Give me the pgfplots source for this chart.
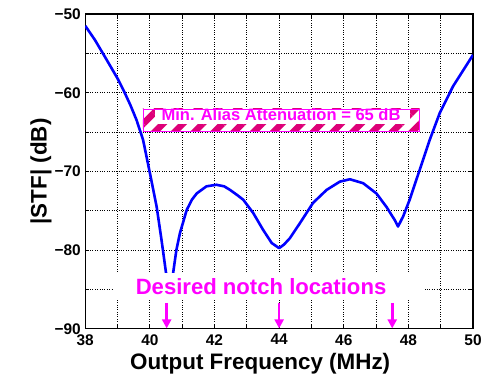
\documentclass[border=0pt]{standalone}
\usepackage{pgfplots}
\pgfplotsset{compat=1.18}
\usetikzlibrary{patterns.meta,arrows.meta}
\usepackage{fontspec}
\setmainfont{Liberation Sans}
\definecolor{stfblue}{RGB}{0,0,255}
\definecolor{mag}{RGB}{255,0,255}
\definecolor{dpink}{RGB}{222,0,120}
\begin{document}
\begin{tikzpicture}
\begin{axis}[
  set layers,
  scale only axis,
  width=388bp, height=315bp,
  xmin=38, xmax=50, ymin=-90, ymax=-50,
  xtick={38,40,...,50},
  minor xtick={39,41,...,49},
  ytick={-90,-80,...,-50},
  yticklabels={−90,−80,−70,−60,−50},
  minor ytick={-85,-75,-65,-55},
  grid=both,
  major grid style={black, dotted, line width=0.8bp},
  minor grid style={black, dotted, line width=0.8bp},
  tick align=inside,
  major tick length=4bp, minor tick length=4bp,
  tick style={black, line width=0.8bp},
  axis line style={black, line width=1.3bp},
  /pgf/number format/assume math mode=true,
  tick label style={font=\bfseries\fontsize{15.5}{15.5}\selectfont},
  xticklabel style={yshift=-2bp},
  yticklabel style={xshift=-1bp},
  xlabel={Output Frequency (MHz)},
  ylabel={|STF| (dB)},
  label style={font=\bfseries\fontsize{22.5}{22.5}\selectfont},
  xlabel style={yshift=-1bp, xshift=-19bp},
  ylabel style={yshift=-4bp},
  clip=true,
]
\addplot[stfblue, line width=2.6bp, line join=round] coordinates {
(38,-51.5) (38.3,-53.3) (38.66,-55.8) (39.0,-58.2) (39.18,-59.65)
(39.4,-61.6) (39.59,-63.5) (39.79,-66) (40.0,-70.2) (40.21,-74.5)
(40.36,-78.7) (40.5,-82.9) (40.6,-85.5) (40.72,-82.9) (40.82,-80)
(40.93,-77.85) (41.14,-74.9) (41.3,-73.6) (41.45,-72.8) (41.75,-71.9)
(42.06,-71.7) (42.3,-71.9) (42.48,-72.35) (42.7,-73.0) (42.89,-73.6)
(43.2,-75.3) (43.5,-77.4) (43.77,-79.1) (44.0,-79.75) (44.15,-79.3)
(44.33,-78.5) (44.64,-76.6) (45.05,-74.0) (45.47,-72.35) (45.88,-71.3)
(46.19,-71.0) (46.6,-71.5) (47.01,-72.8) (47.32,-74.5) (47.58,-76.2)
(47.68,-77.0) (47.84,-75.7) (48.04,-73.6) (48.35,-69.8) (48.66,-66)
(48.97,-62.6) (49.38,-59.2) (50,-55.2)
};
\begin{pgfonlayer}{axis foreground}
% hatched attenuation box
\fill[white] (axis cs:39.785,-62.06) rectangle (axis cs:48.35,-64.9);
\fill[pattern={Lines[angle=45,distance=14bp,line width=6.5bp]}, pattern color=dpink]
  (axis cs:39.785,-62.06) rectangle (axis cs:48.35,-64.9);
\fill[white] (axis cs:40.16,-62.06) rectangle (axis cs:48.04,-63.97);
\draw[mag, line width=0.8bp] (axis cs:39.785,-62.06) rectangle (axis cs:48.35,-64.9);
\node[mag, font=\bfseries\fontsize{16.6}{16.6}\selectfont, inner sep=0pt]
  at (axis cs:44.06,-62.75) {Min. Alias Attenuation = 65 dB};
% notch text
\fill[white] (axis cs:38.86,-82.9) rectangle (axis cs:48.51,-86.3);
\node[mag, font=\bfseries\fontsize{22.2}{22.2}\selectfont, inner sep=0pt]
  at (axis cs:43.44,-84.7) {Desired notch locations};
% arrows
\draw[mag, line width=2.6bp, -{Triangle[width=9bp,length=9bp]}]
    (axis cs:40.52,-86.7) -- (axis cs:40.52,-89.95);
\draw[mag, line width=2.6bp, -{Triangle[width=9bp,length=9bp]}]
    (axis cs:44.0,-86.7) -- (axis cs:44.0,-89.95);
\draw[mag, line width=2.6bp, -{Triangle[width=9bp,length=9bp]}]
    (axis cs:47.5,-86.7) -- (axis cs:47.5,-89.95);
\end{pgfonlayer}
\end{axis}
\pgfresetboundingbox
\path[use as bounding box] ([shift={(-85.3bp,-57bp)}]current axis.south west)
  rectangle ([shift={(8bp,14bp)}]current axis.north east);
\end{tikzpicture}
\end{document}
